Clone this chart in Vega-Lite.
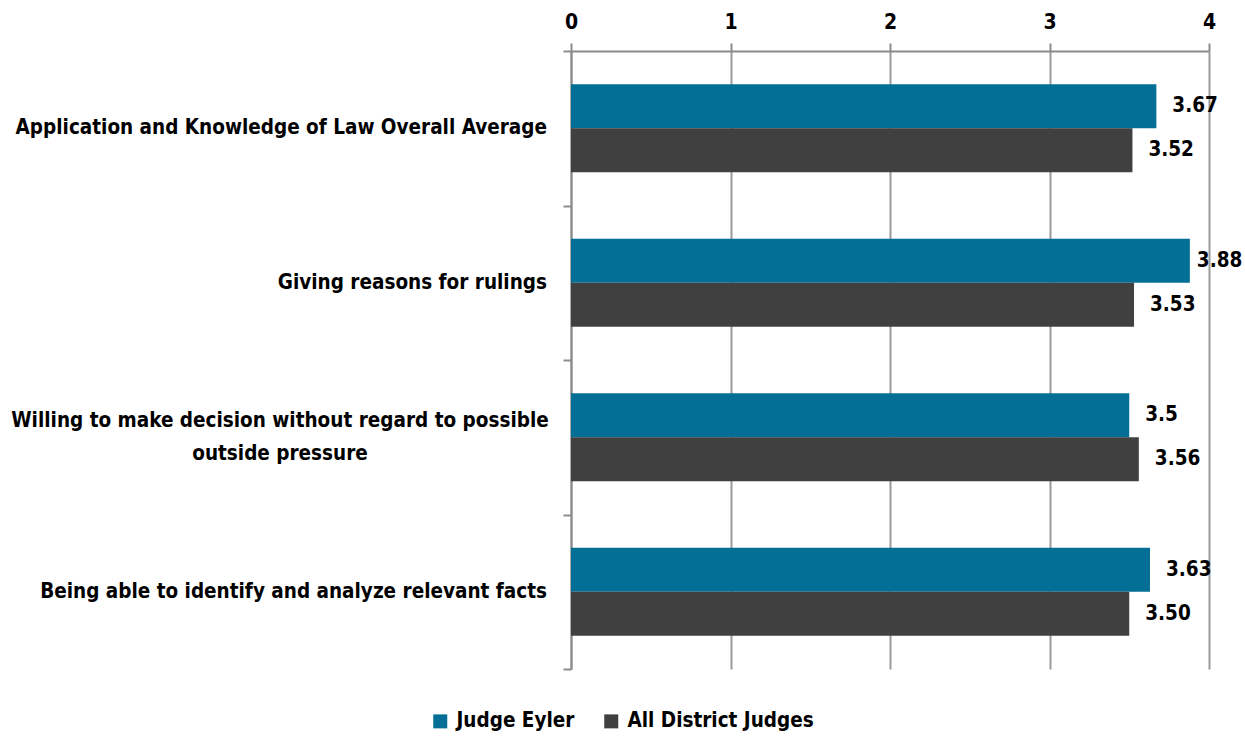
{
  "$schema": "https://vega.github.io/schema/vega-lite/v6.json",
  "width": 638,
  "height": 618,
  "autosize": "none",
  "padding": {"left": 571, "top": 51, "right": 36, "bottom": 69},
  "background": "white",
  "config": {
    "view": {"stroke": null},
    "font": "DejaVu Sans Condensed",
    "axis": {"labelFont": "DejaVu Sans Condensed", "labelFontWeight": "bold", "labelColor": "black", "labelFontSize": 20.5, "labelLimit": 0, "domainColor": "#8c8c8c", "tickColor": "#8c8c8c", "gridColor": "#9a9a9a", "domainWidth": 2, "tickWidth": 2, "gridWidth": 2}
  },
  "data": {"values": [
    {"category": "Application and Knowledge of Law Overall Average", "series": "Judge Eyler", "value": 3.67, "label": "3.67"},
    {"category": "Application and Knowledge of Law Overall Average", "series": "All District Judges", "value": 3.52, "label": "3.52"},
    {"category": "Giving reasons for rulings", "series": "Judge Eyler", "value": 3.88, "label": "3.88"},
    {"category": "Giving reasons for rulings", "series": "All District Judges", "value": 3.53, "label": "3.53"},
    {"category": "Willing to make decision without regard to possible|outside pressure", "series": "Judge Eyler", "value": 3.5, "label": "3.5"},
    {"category": "Willing to make decision without regard to possible|outside pressure", "series": "All District Judges", "value": 3.56, "label": "3.56"},
    {"category": "Being able to identify and analyze relevant facts", "series": "Judge Eyler", "value": 3.63, "label": "3.63"},
    {"category": "Being able to identify and analyze relevant facts", "series": "All District Judges", "value": 3.5, "label": "3.50"}
  ]},
  "encoding": {
    "y": {"field": "category", "type": "nominal", "sort": null, "title": null,
      "scale": {"paddingInner": 0, "paddingOuter": 0},
      "axis": {"orient": "left", "tickBand": "extent", "tickSize": 8, "labels": false, "grid": false}},
    "x": {"field": "value", "type": "quantitative", "title": null,
      "scale": {"domain": [0, 4], "nice": false},
      "axis": {"orient": "top", "values": [0, 1, 2, 3, 4], "tickSize": 8, "labelPadding": 11, "labelFontSize": 21, "labelOverlap": false, "labelFlush": false, "grid": true, "format": "d"}}
  },
  "layer": [
    {"mark": {"type": "bar"},
     "encoding": {
       "yOffset": {"field": "series", "type": "nominal", "sort": ["Judge Eyler", "All District Judges"], "scale": {"paddingInner": 0, "paddingOuter": 0.756}},
       "color": {"field": "series", "type": "nominal", "sort": ["Judge Eyler", "All District Judges"],
       "scale": {"domain": ["Judge Eyler", "All District Judges"], "range": ["#046f96", "#404040"]},
       "legend": {"title": null, "orient": "none", "direction": "horizontal", "legendX": -141, "legendY": 660, "symbolType": "square", "symbolSize": 196, "symbolOpacity": 1, "symbolStrokeWidth": 0, "labelFont": "DejaVu Sans Condensed", "labelFontWeight": "bold", "labelFontSize": 20.5, "labelLimit": 0, "labelColor": "black", "columnPadding": 26, "labelOffset": 6}}}},
    {"transform": [{"filter": "datum.value < 3.8"}],
     "mark": {"type": "text", "align": "left", "baseline": "middle", "dx": 16, "fontSize": 20.5, "fontWeight": "bold", "font": "DejaVu Sans Condensed", "color": "black"},
     "encoding": {
       "yOffset": {"field": "series", "type": "nominal", "sort": ["Judge Eyler", "All District Judges"]},
       "text": {"field": "label"}}},
    {"transform": [{"filter": "datum.value >= 3.8"}],
     "mark": {"type": "text", "align": "left", "baseline": "middle", "dx": 7, "fontSize": 20.5, "fontWeight": "bold", "font": "DejaVu Sans Condensed", "color": "black"},
     "encoding": {
       "yOffset": {"field": "series", "type": "nominal", "sort": ["Judge Eyler", "All District Judges"]},
       "text": {"field": "label"}}},
    {"transform": [{"filter": "datum.series == 'Judge Eyler' && indexof(datum.category, '|') < 0"}],
     "mark": {"type": "text", "align": "right", "baseline": "middle", "dx": -24, "fontSize": 20.5, "fontWeight": "bold", "font": "DejaVu Sans Condensed", "color": "black"},
     "encoding": {
       "x": {"datum": 0, "type": "quantitative"},
       "text": {"field": "category"}}},
    {"transform": [{"filter": "datum.series == 'Judge Eyler' && indexof(datum.category, '|') >= 0"}],
     "mark": {"type": "text", "align": "center", "baseline": "middle", "dx": -291, "dy": -16, "lineBreak": "|", "lineHeight": 33, "fontSize": 20.5, "fontWeight": "bold", "font": "DejaVu Sans Condensed", "color": "black"},
     "encoding": {
       "x": {"datum": 0, "type": "quantitative"},
       "text": {"field": "category"}}}
  ]
}
